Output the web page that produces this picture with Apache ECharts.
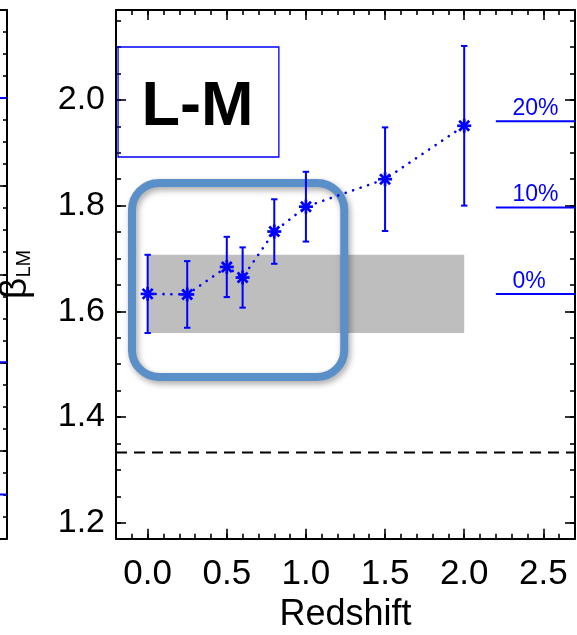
<!DOCTYPE html>
<html>
<head>
<meta charset="utf-8">
<script src="https://cdn.jsdelivr.net/npm/echarts@6/dist/echarts.min.js"></script>
<style>
  html, body { margin: 0; padding: 0; background: #ffffff; }
  #chart { width: 577px; height: 635px; }
</style>
</head>
<body>
<div id="chart"></div>
<script>
// Slope of the L-M relation versus redshift
const redshift = [0.0, 0.25, 0.5, 0.6, 0.8, 1.0, 1.5, 2.0];
const betaLM   = [1.633, 1.632, 1.684, 1.664, 1.751, 1.798, 1.850, 1.951];
const betaErr  = [0.074, 0.063, 0.057, 0.057, 0.061, 0.066, 0.098, 0.151];

// local-universe band spans these redshifts (height = z=0 value +/- its error)
const bandRange = [0.0, 2.0];
// horizontal reference value (dashed)
const betaRef = 1.333;
// evolution levels relative to the z=0 slope, in percent
const evolutionPct = [0, 10, 20];
const evolutionLabels = ['0%', '10%', '20%'];
const evolutionStart = 2.2;
const evolutionLabelX = 2.305;

// axis tick values
const xMajorTicks = [0.0, 0.5, 1.0, 1.5, 2.0, 2.5];
const yMajorTicks = [1.2, 1.4, 1.6, 1.8, 2.0];
const xMinorTicks = [];
for (let i = -1; i <= 26; i++) xMinorTicks.push(i / 10);
const yMinorTicks = [];
for (let i = 24; i <= 43; i++) yMinorTicks.push(Math.round(i * 5) / 100);

// neighbouring panel (only its right edge is in view)
const neighborRefs = [2.0, 1.4, 1.1];
const neighborMinor = [];
for (let i = 20; i <= 44; i++) neighborMinor.push(Math.round(i * 5) / 100);
const neighborMajor = [1.0, 1.2, 1.4, 1.6, 1.8, 2.0, 2.2];

const BLUE = '#0000ff';
const FONT = 'Liberation Sans, Arial, Helvetica, sans-serif';

const chart = echarts.init(document.getElementById('chart'), null, { renderer: 'canvas' });

const baseBeta = betaLM[0];
const evoRows = evolutionPct.map((p, i) => [evolutionStart, 2.7, baseBeta * (1 + p / 100), i]);

const MAIN = { left: 116, top: 10, width: 459, height: 528.7 };
const SIDE = { left: -452, top: 10, width: 459, height: 528.5 };

const hiddenLine = { show: false, onZero: false };
const frameLine = { show: true, onZero: false, lineStyle: { color: '#000', width: 2 } };
const tickStyle = { color: '#000', width: 1.6 };
const ticks = (vals, len) => ({ show: true, inside: true, length: len, customValues: vals, lineStyle: tickStyle });

function axis(opts) {
  return Object.assign({
    type: 'value',
    splitLine: { show: false },
    axisLine: hiddenLine,
    axisLabel: { show: false },
    axisTick: { show: false }
  }, opts);
}
const mainX = { min: -0.2, max: 2.7 };
const mainY = { min: 1.17, max: 2.17 };
const sideY = { min: 1.0, max: 2.2 };

const option = {
  animation: false,
  backgroundColor: '#ffffff',
  grid: [
    Object.assign({ outerBoundsMode: 'none' }, MAIN),   // 0: main panel, major ticks
    Object.assign({ outerBoundsMode: 'none' }, SIDE),   // 1: neighbour panel frame
    Object.assign({ outerBoundsMode: 'none' }, MAIN),   // 2: main panel, minor ticks
    Object.assign({ outerBoundsMode: 'none' }, SIDE)    // 3: neighbour panel, major ticks
  ],
  xAxis: [
    axis(Object.assign({
      gridIndex: 0, position: 'bottom',
      axisLine: frameLine,
      axisTick: ticks(xMajorTicks, 10),
      axisLabel: {
        show: true, customValues: xMajorTicks, margin: 18,
        formatter: (v) => v.toFixed(1),
        color: '#000', fontSize: 35, fontFamily: FONT
      },
      name: 'Redshift', nameLocation: 'middle', nameGap: 58,
      nameTextStyle: { color: '#000', fontSize: 36, fontFamily: FONT }
    }, mainX)),
    axis(Object.assign({ gridIndex: 0, position: 'top', axisLine: frameLine, axisTick: ticks(xMajorTicks, 10) }, mainX)),
    axis(Object.assign({ gridIndex: 1, position: 'bottom', axisLine: frameLine }, mainX)),
    axis(Object.assign({ gridIndex: 1, position: 'top', axisLine: frameLine }, mainX)),
    axis(Object.assign({ gridIndex: 2, position: 'bottom', axisTick: ticks(xMinorTicks, 5) }, mainX)),
    axis(Object.assign({ gridIndex: 2, position: 'top', axisTick: ticks(xMinorTicks, 5) }, mainX)),
    axis(Object.assign({ gridIndex: 3, position: 'bottom' }, mainX))
  ],
  yAxis: [
    axis(Object.assign({
      gridIndex: 0, position: 'left',
      axisLine: frameLine,
      axisTick: ticks(yMajorTicks, 10),
      axisLabel: {
        show: true, customValues: yMajorTicks, margin: 11,
        formatter: (v) => v.toFixed(1),
        color: '#000', fontSize: 34, fontFamily: FONT
      },
      name: '{b|β}{s|LM}', nameLocation: 'middle', nameGap: 82, nameRotate: 90,
      nameTextStyle: {
        rich: {
          b: { fontSize: 37, fontFamily: FONT, color: '#000' },
          s: { fontSize: 20, fontFamily: FONT, color: '#000', verticalAlign: 'bottom', padding: [14, 0, 0, 0] }
        }
      }
    }, mainY)),
    axis(Object.assign({ gridIndex: 0, position: 'right', axisLine: frameLine, axisTick: ticks(yMajorTicks, 10) }, mainY)),
    axis(Object.assign({ gridIndex: 1, position: 'right', axisLine: frameLine, axisTick: ticks(neighborMinor, 4) }, sideY)),
    axis(Object.assign({ gridIndex: 1, position: 'left' }, sideY)),
    axis(Object.assign({ gridIndex: 2, position: 'left', axisTick: ticks(yMinorTicks, 5) }, mainY)),
    axis(Object.assign({ gridIndex: 2, position: 'right', axisTick: ticks(yMinorTicks, 5) }, mainY)),
    axis(Object.assign({ gridIndex: 3, position: 'right', axisTick: ticks(neighborMajor, 7) }, sideY))
  ],
  series: [
    // grey band: z=0 slope and its uncertainty
    {
      type: 'custom', xAxisIndex: 0, yAxisIndex: 0, z: 1, silent: true,
      data: [[bandRange[0], bandRange[1], baseBeta - betaErr[0], baseBeta + betaErr[0]]],
      encode: { x: [0, 1], y: [2, 3] },
      renderItem: (params, api) => {
        const p0 = api.coord([api.value(0), api.value(3)]);
        const p1 = api.coord([api.value(1), api.value(2)]);
        return { type: 'rect', shape: { x: p0[0], y: p0[1], width: p1[0] - p0[0], height: p1[1] - p0[1] },
                 style: { fill: '#bebebe' } };
      }
    },
    // dashed reference level
    {
      type: 'line', xAxisIndex: 0, yAxisIndex: 0, z: 2, silent: true, symbol: 'none',
      data: [[-0.2, betaRef], [2.7, betaRef]],
      lineStyle: { color: '#000', width: 2, type: [11, 7] }
    },
    // evolution levels with their labels
    {
      type: 'custom', xAxisIndex: 0, yAxisIndex: 0, z: 3, silent: true,
      data: evoRows,
      encode: { x: [0, 1], y: 2 },
      renderItem: (params, api) => {
        const a = api.coord([api.value(0), api.value(2)]);
        const b = api.coord([api.value(1), api.value(2)]);
        const t = api.coord([evolutionLabelX, api.value(2)]);
        return { type: 'group', children: [
          { type: 'line', shape: { x1: a[0], y1: a[1], x2: b[0], y2: b[1] }, style: { stroke: BLUE, lineWidth: 2 } },
          { type: 'text', x: t[0], y: a[1] - 1,
            style: { text: evolutionLabels[api.value(3)], fill: BLUE, fontSize: 23, fontFamily: FONT,
                     align: 'left', verticalAlign: 'bottom' } }
        ] };
      }
    },
    // dotted connecting line
    {
      type: 'line', xAxisIndex: 0, yAxisIndex: 0, z: 4, silent: true, symbol: 'none',
      data: redshift.map((z, i) => [z, betaLM[i]]),
      lineStyle: { color: BLUE, width: 2.6, type: [0.1, 7.8], cap: 'round' }
    },
    // error bars and asterisk markers
    {
      type: 'custom', xAxisIndex: 0, yAxisIndex: 0, z: 5, silent: true,
      data: redshift.map((z, i) => [z, betaLM[i], betaErr[i]]),
      encode: { x: 0, y: 1 },
      renderItem: (params, api) => {
        const x = api.value(0), y = api.value(1), e = api.value(2);
        const top = api.coord([x, y + e]);
        const bot = api.coord([x, y - e]);
        const c = api.coord([x, y]);
        const st = { stroke: BLUE, lineWidth: 2 };
        const sa = { stroke: BLUE, lineWidth: 2.7 };
        const cap = 3.2, r = 7, d = 5;
        return { type: 'group', children: [
          { type: 'line', shape: { x1: top[0], y1: top[1], x2: bot[0], y2: bot[1] }, style: st },
          { type: 'line', shape: { x1: top[0] - cap, y1: top[1], x2: top[0] + cap, y2: top[1] }, style: st },
          { type: 'line', shape: { x1: bot[0] - cap, y1: bot[1], x2: bot[0] + cap, y2: bot[1] }, style: st },
          { type: 'line', shape: { x1: c[0] - r, y1: c[1], x2: c[0] + r, y2: c[1] }, style: sa },
          { type: 'line', shape: { x1: c[0], y1: c[1] - r, x2: c[0], y2: c[1] + r }, style: sa },
          { type: 'line', shape: { x1: c[0] - d, y1: c[1] - d, x2: c[0] + d, y2: c[1] + d }, style: sa },
          { type: 'line', shape: { x1: c[0] - d, y1: c[1] + d, x2: c[0] + d, y2: c[1] - d }, style: sa }
        ] };
      }
    },
    // neighbouring panel's reference marks
    {
      type: 'custom', xAxisIndex: 2, yAxisIndex: 2, z: 3, silent: true,
      data: neighborRefs.map((v) => [2.2, 2.7, v]),
      encode: { x: [0, 1], y: 2 },
      renderItem: (params, api) => {
        const a = api.coord([api.value(0), api.value(2)]);
        const b = api.coord([api.value(1), api.value(2)]);
        return { type: 'line', shape: { x1: a[0], y1: a[1], x2: b[0], y2: b[1] }, style: { stroke: BLUE, lineWidth: 2 } };
      }
    }
  ]
};

chart.setOption(option);

// annotation frames placed in data coordinates of the main panel
const labelBox = { x: [-0.187, 0.829], y: [2.1, 1.892] };
const focusBox = { x: [-0.099, 1.242], y: [1.843, 1.476] };

function px(pt) { return chart.convertToPixel({ gridIndex: 0 }, pt); }
const lb0 = px([labelBox.x[0], labelBox.y[0]]);
const lb1 = px([labelBox.x[1], labelBox.y[1]]);
const fb0 = px([focusBox.x[0], focusBox.y[0]]);
const fb1 = px([focusBox.x[1], focusBox.y[1]]);

chart.setOption({
  graphic: [
    {
      type: 'rect', z: 3, silent: true,
      shape: { x: fb0[0], y: fb0[1], width: fb1[0] - fb0[0], height: fb1[1] - fb0[1], r: 27 },
      style: { fill: 'none', stroke: '#5b8fc7', lineWidth: 8,
               shadowBlur: 6, shadowOffsetX: 2, shadowOffsetY: 3, shadowColor: 'rgba(0,0,0,0.35)' }
    },
    {
      type: 'rect', z: 3, silent: true,
      shape: { x: lb0[0], y: lb0[1], width: lb1[0] - lb0[0], height: lb1[1] - lb0[1] },
      style: { fill: 'none', stroke: BLUE, lineWidth: 1.3 }
    },
    {
      type: 'text', z: 4, silent: true,
      x: (lb0[0] + lb1[0]) / 2 - 1, y: (lb0[1] + lb1[1]) / 2 + 6,
      style: { text: 'L-M', fill: '#000', fontSize: 63, fontWeight: 'bold', fontFamily: FONT,
               align: 'center', verticalAlign: 'middle' }
    }
  ]
});
</script>
</body>
</html>
